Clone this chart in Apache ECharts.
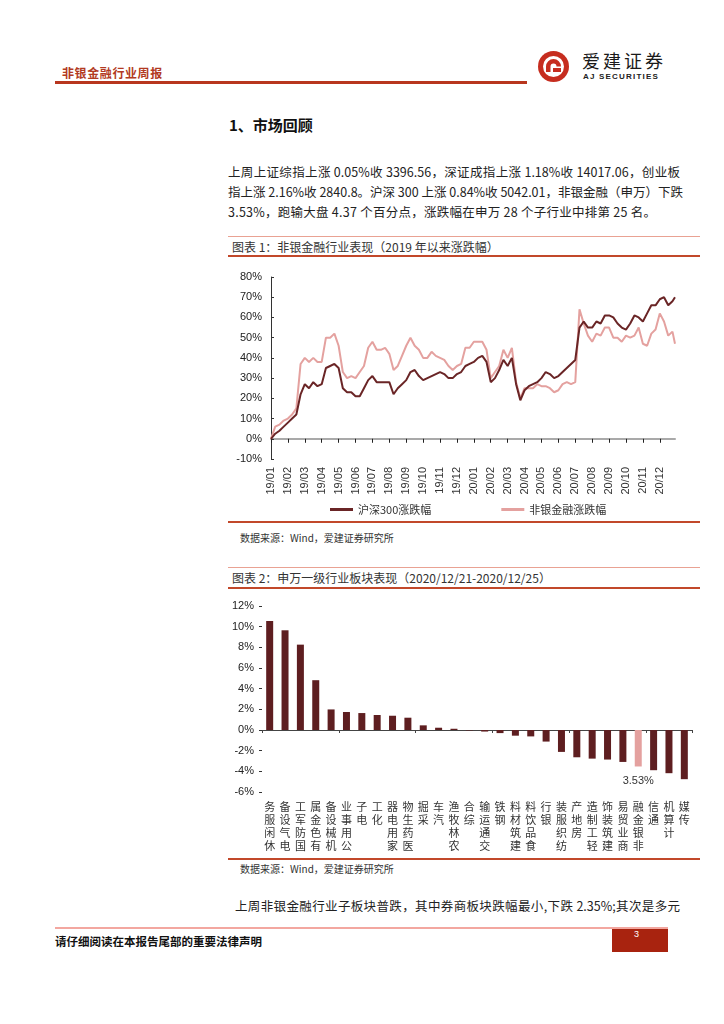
<!DOCTYPE html>
<html><head><meta charset="utf-8">
<script src="https://cdn.jsdelivr.net/npm/echarts@6/dist/echarts.min.js"></script>
<style>
html,body{margin:0;padding:0;background:#fff;}
body{width:724px;height:1024px;position:relative;overflow:hidden;font-family:"Noto Sans CJK SC","Liberation Sans",sans-serif;color:#222;}
.a{position:absolute;white-space:nowrap;}
.ln{position:absolute;}
.p{font-size:12.5px;line-height:18px;color:#222;}
.j{text-align:justify;text-align-last:justify;}
</style></head><body>
<!-- header -->
<div class="a" style="left:62px;top:64px;font-size:12px;font-weight:bold;color:#B23A22;letter-spacing:0.6px;">非银金融行业周报</div>
<div class="ln" style="left:55px;top:81px;width:472px;height:3px;background:#B8361E;"></div>
<svg class="a" style="left:537px;top:50px;" width="33" height="33" viewBox="0 0 33 33">
  <circle cx="16.5" cy="16.5" r="15.5" fill="#C62D1F"/>
  <circle cx="16.5" cy="16.5" r="10.5" fill="#fff"/>
  <path d="M9 16.5 A7.5 7.5 0 0 1 24 16.5 L19.5 16.5 A3 3 0 0 0 13.5 16.5 L13.5 22 L9 22 Z" fill="#C62D1F"/>
  <rect x="16" y="18" width="8" height="4" fill="#C62D1F"/>
</svg>
<div class="a" style="left:582px;top:47px;font-size:18px;letter-spacing:3px;color:#1a1a1a;">爱建证券</div>
<div class="a" style="left:583px;top:72px;font-size:8px;font-weight:bold;letter-spacing:1.2px;font-family:'Liberation Sans',sans-serif;color:#222;">AJ SECURITIES</div>

<div class="a" style="left:229px;top:114px;font-size:15px;font-weight:bold;color:#111;">1、市场回顾</div>
<div class="a p j" style="left:228px;top:163px;width:452px;">上周上证综指上涨 0.05%收 3396.56，深证成指上涨 1.18%收 14017.06，创业板</div>
<div class="a p j" style="left:228px;top:183px;width:452px;">指上涨 2.16%收 2840.8。沪深 300 上涨 0.84%收 5042.01，非银金融（申万）下跌</div>
<div class="a p" style="left:228px;top:203px;letter-spacing:0.25px;">3.53%，跑输大盘 4.37 个百分点，涨跌幅在申万 28 个子行业中排第 25 名。</div>

<!-- chart 1 box -->
<div class="ln" style="left:228px;top:236px;width:472px;height:1px;background:#E9A293;"></div>
<div class="a" style="left:232px;top:238px;font-size:12px;color:#333;">图表 1：非银金融行业表现（2019 年以来涨跌幅）</div>
<div class="ln" style="left:228px;top:255px;width:472px;height:2px;background:#C2482A;"></div>
<div id="c1" style="position:absolute;left:228px;top:262px;width:480px;height:255px;"></div>
<div class="ln" style="left:228px;top:521px;width:472px;height:2px;background:#C2482A;"></div>
<div class="a" style="left:240px;top:530px;font-size:10px;color:#333;">数据来源：Wind，爱建证券研究所</div>

<!-- chart 2 box -->
<div class="ln" style="left:228px;top:567px;width:472px;height:1px;background:#E9A293;"></div>
<div class="a" style="left:232px;top:569px;font-size:12px;color:#333;">图表 2：申万一级行业板块表现（2020/12/21-2020/12/25）</div>
<div class="ln" style="left:228px;top:587px;width:472px;height:2px;background:#C2482A;"></div>
<div id="c2" style="position:absolute;left:228px;top:592px;width:480px;height:265px;"></div>
<div class="ln" style="left:228px;top:858px;width:472px;height:2px;background:#C2482A;"></div>
<div class="a" style="left:240px;top:861px;font-size:10px;color:#333;">数据来源：Wind，爱建证券研究所</div>

<div class="a p j" style="left:235px;top:897px;width:445px;">上周非银金融行业子板块普跌，其中券商板块跌幅最小,下跌 2.35%;其次是多元</div>

<!-- footer -->
<div class="ln" style="left:55px;top:927px;width:613px;height:2px;background:#F3A7A0;"></div>
<div class="a" style="left:55px;top:933px;font-size:11.5px;font-weight:bold;color:#111;">请仔细阅读在本报告尾部的重要法律声明</div>
<div class="ln" style="left:612px;top:929px;width:56px;height:23px;background:#A8230F;"></div>
<div class="a" style="left:634px;top:929px;font-size:9px;color:#fff;font-family:'Liberation Sans',sans-serif;">3</div>

<script>
// ---------- chart 1 data ----------
const monthLabels = ['19/01','19/02','19/03','19/04','19/05','19/06','19/07','19/08','19/09','19/10','19/11','19/12',
  '20/01','20/02','20/03','20/04','20/05','20/06','20/07','20/08','20/09','20/10','20/11','20/12'];
// time in months since 2019-01-01
const tMonths = [0,0.25,0.5,0.75,1,1.25,1.5,1.75,2,2.25,2.5,2.75,3,3.25,3.5,3.75,4,4.25,4.5,4.75,
  5,5.25,5.5,5.75,6,6.25,6.5,6.75,7,7.25,7.5,7.75,8,8.25,8.5,8.75,9,9.25,9.5,9.75,
  10,10.25,10.5,10.75,11,11.25,11.5,11.75,12,12.25,12.5,12.75,13,13.25,13.5,13.75,14,14.25,14.5,14.75,
  15,15.25,15.5,15.75,16,16.25,16.5,16.75,17,17.25,17.5,17.75,18,18.25,18.5,18.75,19,19.25,19.5,19.75,
  20,20.25,20.5,20.75,21,21.25,21.5,21.75,22,22.25,22.5,22.75,23,23.25,23.5,23.75,23.9];
const hs300 = [0,2.5,4,6, 8,10,12,22, 27,25,28,26, 27,35,36,37, 35,25,23,23, 21,21,25,29,
  31,28,28,28, 28,22,25,27, 29,33,34,31, 29,30,31,32, 33,32,30,30, 32,33,36,37,
  38,40,41,38, 28,30,34,39, 36,40,27,19, 24,26,27,28, 30,33,32,30, 31,33,35,37,
  39,55,58,55, 55,58,57,61, 61,60,57,55, 54,57,61,60, 58,62,66,66, 69,70,66,68, 70];
const nonBank = [0,6,7,9, 10,12,15,37, 40,38,40,38, 38,50,50,52, 46,33,30,31, 30,33,36,45,
  48,44,44,45, 42,34,36,41, 46,50,46,44, 40,40,43,41, 40,39,36,34, 36,37,45,45,
  48,48,48,44, 30,33,36,44, 40,45,28,20, 25,25,25,27, 26,26,25,23, 24,27,28,27,
  28,64,57,51, 48,52,51,55, 55,50,50,48, 51,50,51,55, 47,46,52,54, 62,58,51,53, 47];
const seriesNames = ['沪深300涨跌幅','非银金融涨跌幅'];
const monthTicks = [0,1,2,3,4,5,6,7,8,9,10,11,12,13,14,15,16,17,18,19,20,21,22,23];

// ---------- chart 2 data ----------
const industries = ['休闲服务','电气设备','国防军工','有色金属','机械设备','公用事业','电子','化工','家用电器','医药生物',
  '采掘','汽车','农林牧渔','综合','交通运输','钢铁','建筑材料','食品饮料','银行','纺织服装',
  '房地产','轻工制造','建筑装饰','商业贸易','非银金融','通信','计算机','传媒'];
const weeklyChange = [10.55,9.65,8.26,4.82,1.99,1.74,1.64,1.45,1.38,1.19,
  0.45,0.22,0.12,-0.04,-0.15,-0.30,-0.55,-0.62,-1.12,-2.12,
  -2.64,-2.77,-2.86,-3.09,-3.53,-3.89,-4.18,-4.76];
const highlight = '非银金融';

const DARK = '#5E1E20', PINK = '#E4A19F';
const numFont = 'Liberation Sans';

const c1 = echarts.init(document.getElementById('c1'));
c1.setOption({
  animation:false,
  grid:{left:43, top:15, width:404, height:182},
  legend:{left:97, top:237, itemWidth:23, itemHeight:3, itemGap:70, icon:'rect',
    textStyle:{fontSize:11, color:'#333', fontFamily:'Noto Sans CJK SC'}, data:seriesNames},
  xAxis:[
    {type:'value', min:0, max:23.9, interval:1,
     axisLine:{onZero:true, lineStyle:{color:'#A9A9A9', width:2}},
     axisTick:{show:true, length:4, customValues:monthTicks, lineStyle:{color:'#222', width:1}},
     axisLabel:{show:false}, splitLine:{show:false}},
    {type:'value', min:0, max:23.9, interval:1, position:'bottom',
     axisLine:{show:false, onZero:false}, axisTick:{show:false}, splitLine:{show:false},
     axisLabel:{rotate:90, margin:8, fontSize:11, color:'#333', fontFamily:numFont,
       customValues:monthTicks, formatter:v=>monthLabels[Math.round(v)]||''}}
  ],
  yAxis:{type:'value', min:-10, max:80, interval:10,
    axisLine:{show:true, lineStyle:{color:'#333', width:1}},
    axisTick:{show:true, inside:true, length:3, lineStyle:{color:'#333'}},
    splitLine:{show:false},
    axisLabel:{formatter:'{value}%', fontSize:11, color:'#222', margin:9, fontFamily:numFont}},
  series:[
    {name:seriesNames[0], type:'line', showSymbol:false, z:4, color:'#6A2526',
     lineStyle:{width:2, color:'#6A2526'}, data:tMonths.map((t,i)=>[t,hs300[i]])},
    {name:seriesNames[1], type:'line', showSymbol:false, z:3, color:PINK,
     lineStyle:{width:2, color:PINK}, data:tMonths.map((t,i)=>[t,nonBank[i]])}
  ]
});

const c2 = echarts.init(document.getElementById('c2'));
c2.setOption({
  animation:false,
  grid:{left:34, top:14, width:430, height:186},
  xAxis:[
    {type:'category', data:industries,
     axisLine:{onZero:true, lineStyle:{color:'#444', width:1}},
     axisTick:{show:true, length:3, lineStyle:{color:'#444'}},
     axisLabel:{show:false}},
    {type:'category', data:industries, position:'bottom',
     axisLine:{show:false, onZero:false}, axisTick:{show:false},
     axisLabel:{interval:0, margin:8, fontSize:11, lineHeight:13, color:'#333', verticalAlign:'top',
       fontFamily:'Noto Sans CJK SC', formatter:s=>s.split('').reverse().join('\n')}}
  ],
  yAxis:{type:'value', min:-6, max:12, interval:2,
    axisLine:{show:false}, splitLine:{show:false},
    axisTick:{show:true, length:3, lineStyle:{color:'#333'}},
    axisLabel:{formatter:'{value}%', fontSize:11, color:'#222', margin:8, fontFamily:numFont}},
  series:[{type:'bar', barWidth:7,
    data:weeklyChange.map((v,i)=>industries[i]===highlight
      ? {value:v, itemStyle:{color:PINK},
         label:{show:true, position:'bottom', distance:9, fontSize:11, color:'#333', fontFamily:numFont,
                formatter:p=>Math.abs(p.value).toFixed(2)+'%'}}
      : {value:v}),
    itemStyle:{color:DARK}}]
});
</script>
</body></html>
